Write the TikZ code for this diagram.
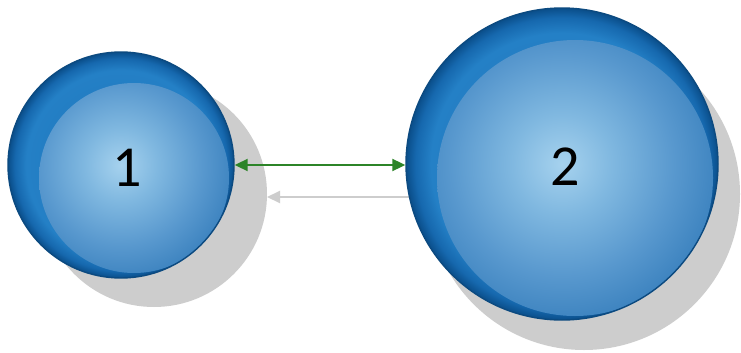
\documentclass[tikz,border=0pt]{standalone}
\usepackage{fontspec}
\setmainfont{Carlito}
\usetikzlibrary{arrows.meta,calc}
\definecolor{edgeblue}{RGB}{12,74,128}
\definecolor{shadowgray}{RGB}{205,205,205}
\definecolor{arrowgreen}{RGB}{44,132,40}
\definecolor{ib0}{RGB}{166,210,238}
\definecolor{ib1}{RGB}{128,184,224}
\definecolor{ib2}{RGB}{88,152,206}
\definecolor{ib3}{RGB}{62,132,192}
\definecolor{ob0}{RGB}{30,116,186}
\definecolor{ob1}{RGB}{36,128,198}
\definecolor{ob2}{RGB}{22,104,174}
\definecolor{ob3}{RGB}{10,78,138}
\pgfdeclareradialshading{innerball}{\pgfpointorigin}{color(0bp)=(ib0); color(8bp)=(ib1); color(18bp)=(ib2); color(25bp)=(ib3); color(50bp)=(ib3)}
\pgfdeclareradialshading{outerball}{\pgfpointorigin}{color(0bp)=(ob0); color(21bp)=(ob1); color(23.5bp)=(ob2); color(25bp)=(ob3); color(50bp)=(ob3)}
\tikzset{
  ball/.style={circle, inner sep=0pt, draw=edgeblue, line width=1.4pt, minimum size=#1, shading=outerball},
  numtext/.style={font=\fontsize{58}{58}\selectfont, text=black, inner sep=0pt},
  shadowdisc/.style={fill=shadowgray},
  greenarrow/.style={draw=arrowgreen, line width=2pt, {Triangle[length=13pt,width=12pt]}-{Triangle[length=13pt,width=12pt]}},
  grayarrow/.style={draw=shadowgray, line width=2pt, {Triangle[length=13pt,width=12pt]}-{Triangle[length=13pt,width=12pt]}},
}
\begin{document}
\begin{tikzpicture}[x=1pt,y=-1pt]
\useasboundingbox[fill=white] (0,0) rectangle (741,353);
% shadows
\fill[shadowdisc] (154,194) circle[radius=113pt];
\fill[shadowdisc] (584,194) circle[radius=156pt];
\coordinate (g1) at (267,197);
\coordinate (g2) at (445,197);
\draw[grayarrow] (g1) -- (g2);
% balls
\node[ball=226pt, path picture={\shade[shading=innerball] ($(path picture bounding box.center)+(13,13)$) circle[radius=95pt];}] (c1) at (121,165) {};
\node[ball=312pt, path picture={\shade[shading=innerball] ($(path picture bounding box.center)+(13,14)$) circle[radius=138pt];}] (c2) at (562,164) {};
\node[numtext] (t1) at (127,168) {1};
\node[numtext] (t2) at (565,167) {2};
\coordinate (a1) at (c1.east);
\draw[greenarrow] (a1) -- (a1 -| c2.west);
\end{tikzpicture}
\end{document}
